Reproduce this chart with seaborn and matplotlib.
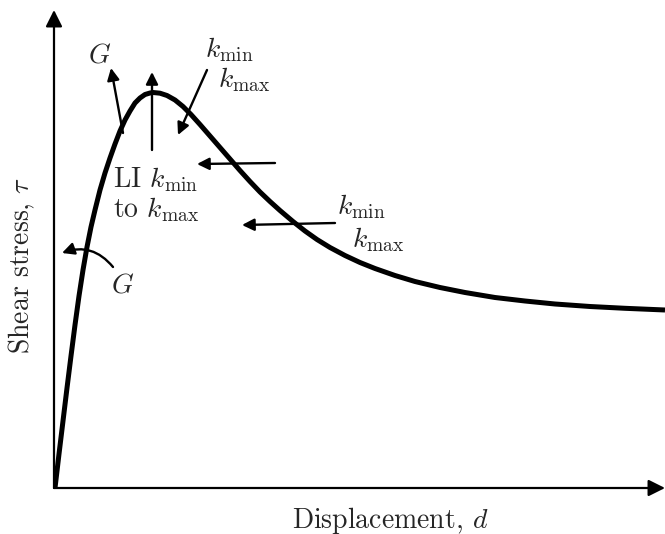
import matplotlib
matplotlib.use("Agg")
import matplotlib.pyplot as plt
import seaborn as sns
import pandas as pd

# Conceptual shear stress - displacement curve (arbitrary units)
displacement = [0, 4, 8, 12, 16, 20, 24, 28, 32, 36, 40, 45, 50, 55, 60, 65,
                70, 75, 80, 85, 90, 95, 98, 105, 112, 120, 128, 136, 145, 155,
                165, 175, 185, 195, 205, 215, 225, 238, 250, 262, 275, 290,
                305, 320, 340, 360, 385, 410, 440, 470, 500, 535, 570, 610]
shear_stress = [0, 34, 67, 100, 132, 163, 192, 218, 241, 261, 278, 298, 315,
                330, 344, 357, 368, 377, 385, 390, 393.5, 395, 395.5, 394.8,
                392.5, 388, 381.5, 373.5, 363.5, 352, 340.5, 329, 317.5,
                306.5, 296, 286.5, 277.5, 266.5, 257, 248.5, 240.5, 232.5,
                225.5, 219.5, 212.5, 206.5, 200.5, 195.5, 190.5, 187, 184,
                181.5, 179.7, 178]

x_label = "Displacement, $d$"
y_label = "Shear stress, $\\tau$"

sns.set_theme(style="white")
plt.rcParams["font.family"] = ["cmr10"]
plt.rcParams["mathtext.fontset"] = "cm"
plt.rcParams["axes.formatter.use_mathtext"] = True

W, H = 665, 534
fig = plt.figure(figsize=(W / 100, H / 100), dpi=100)
ax = fig.add_axes([55 / W, (H - 488) / H, 610 / W, 478 / H])

df = pd.DataFrame({"d": displacement, "tau": shear_stress})
sns.lineplot(data=df, x="d", y="tau", sort=False, color="black",
             linewidth=3.6, ax=ax, solid_capstyle="butt",
             solid_joinstyle="round")

ax.set_xlim(0, 610)
ax.set_ylim(0, 478)
for s in ax.spines.values():
    s.set_visible(False)
ax.set_xticks([])
ax.set_yticks([])
ax.set_xlabel("")
ax.set_ylabel("")

# axes drawn as arrows
axis_arrow = dict(arrowstyle="-|>", mutation_scale=25, lw=1.6, color="black",
                  shrinkA=0, shrinkB=0)
ax.annotate("", xy=(610, 0), xytext=(-1, 0), arrowprops=axis_arrow,
            annotation_clip=False)
ax.annotate("", xy=(-1, 478), xytext=(-1, 0), arrowprops=axis_arrow,
            annotation_clip=False)

fs = 20
arrow = dict(arrowstyle="-|>", mutation_scale=18, lw=1.7, color="black",
             shrinkA=0, shrinkB=0)

def note(txt, xy, xytext, **kw):
    ax.annotate(txt, xy=xy, xytext=xytext, arrowprops=arrow,
                annotation_clip=False, **kw)

# shear modulus near the peak
ax.text(45, 433, "$G$", fontsize=fs, ha="center", va="center")
note("", (56, 420), (68, 355))
# peak arrow
note("", (97, 416), (97, 338))
# post-peak stiffness
ax.text(150, 438, "$k_{\\min}$", fontsize=fs, ha="left", va="center")
ax.text(163, 408, "$k_{\\max}$", fontsize=fs, ha="left", va="center")
note("", (123, 353), (152, 418))
# linear interpolation of stiffness
ax.text(58, 308, "LI $k_{\\min}$", fontsize=fs, ha="left", va="center")
ax.text(58, 278, "to $k_{\\max}$", fontsize=fs, ha="left", va="center")
note("", (142, 324), (220, 325))
# softening branch
note("", (187, 263), (280, 265))
ax.text(282, 281, "$k_{\\min}$", fontsize=fs, ha="left", va="center")
ax.text(297, 248, "$k_{\\max}$", fontsize=fs, ha="left", va="center")
# initial shear modulus
ax.text(68, 203, "$G$", fontsize=fs, ha="center", va="center")
ax.annotate("", xy=(7, 235), xytext=(58, 221),
            arrowprops=dict(arrow, connectionstyle="arc3,rad=0.35"),
            annotation_clip=False)

fig.text(390 / W, 1 - 520 / H, x_label, fontsize=fs, ha="center", va="center")
fig.text(22 / W, 1 - 265 / H, y_label, fontsize=fs, ha="center", va="center",
         rotation=90)

fig.savefig("out.png", dpi=100)
